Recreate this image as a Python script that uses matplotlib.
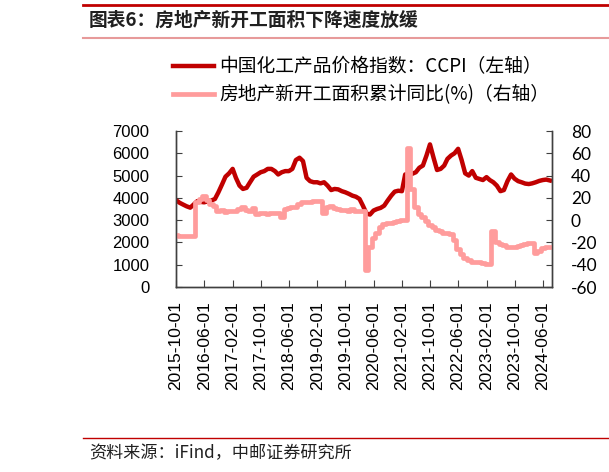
import numpy as np
import pandas as pd
import matplotlib
matplotlib.use("Agg")
import matplotlib.pyplot as plt
import matplotlib.dates as mdates
from matplotlib.lines import Line2D

CJK = ["Noto Sans CJK SC", "DejaVu Sans"]
DARK = "#c00000"
PINK = "#ff9c9c"
INK = "#404040"

# CCPI (left axis), monthly readings
ccpi_start = "2015-10-01"
ccpi = [3900, 3780, 3700, 3620, 3560, 3700, 3850, 3820, 3800, 3850,
        3880, 3950, 4250, 4600, 4950, 5100, 5300, 4900, 4550, 4400,
        4450, 4700, 4950, 5050, 5150, 5200, 5300, 5300, 5200, 5050,
        5150, 5200, 5200, 5300, 5700, 5800, 5650, 4900, 4750, 4700,
        4700, 4650, 4700, 4550, 4350, 4400, 4380, 4300, 4250, 4180,
        4100, 4050, 3950, 3650, 3300, 3250, 3430, 3500, 3550, 3650,
        3880, 4100, 4280, 4320, 4300, 5050, 5080, 5080, 5150, 5350,
        5450, 5900, 6400, 5800, 5250, 5300, 5450, 5750, 5900, 6000,
        6200, 5700, 5100, 5000, 5200, 4900, 4850, 4800, 4930, 4800,
        4700, 4550, 4300, 4350, 4750, 5050, 4860, 4750, 4700, 4640,
        4620, 4650, 4700, 4760, 4800, 4820, 4780]

# new-start area cumulative yoy (%), right axis; value changes on release dates
yoy_dates = ["2015-10-01", "2015-10-19", "2015-11-12", "2015-12-12", "2016-01-19",
             "2016-03-12", "2016-04-15", "2016-05-14", "2016-06-13", "2016-07-15",
             "2016-08-12", "2016-09-13", "2016-10-19", "2016-11-14", "2016-12-13",
             "2017-01-20", "2017-03-14", "2017-04-17", "2017-05-15", "2017-06-14",
             "2017-07-17", "2017-08-14", "2017-09-14", "2017-10-19", "2017-11-14",
             "2017-12-14", "2018-01-18", "2018-03-14", "2018-04-17", "2018-05-15",
             "2018-06-14", "2018-07-16", "2018-08-14", "2018-09-14", "2018-10-19",
             "2018-11-14", "2018-12-14", "2019-01-21", "2019-03-14", "2019-04-17",
             "2019-05-15", "2019-06-14", "2019-07-15", "2019-08-14", "2019-09-16",
             "2019-10-18", "2019-11-14", "2019-12-16", "2020-01-17", "2020-03-16",
             "2020-04-17", "2020-05-15", "2020-06-15", "2020-07-16", "2020-08-14",
             "2020-09-15", "2020-10-19", "2020-11-16", "2020-12-15", "2021-01-18",
             "2021-03-15", "2021-04-16", "2021-05-17", "2021-06-16", "2021-07-15",
             "2021-08-16", "2021-09-15", "2021-10-18", "2021-11-15", "2021-12-15",
             "2022-01-17", "2022-03-15", "2022-04-18", "2022-05-16", "2022-06-15",
             "2022-07-15", "2022-08-15", "2022-09-16", "2022-10-24", "2022-11-15",
             "2022-12-15", "2023-01-17", "2023-03-15", "2023-04-18", "2023-05-16",
             "2023-06-15", "2023-07-17", "2023-08-15", "2023-09-15", "2023-10-18",
             "2023-11-15", "2023-12-15", "2024-01-17", "2024-03-18", "2024-04-16",
             "2024-05-17", "2024-06-17", "2024-07-15", "2024-08-15"]
yoy = [-13.0, -13.9, -14.0, -14.5, -14.0,
       16.0, 19.2, 21.4, 18.1, 14.9,
       12.3, 8.5, 8.7, 7.6, 8.1,
       8.1, 10.4, 11.6, 9.4, 8.1,
       10.6, 5.5, 6.3, 6.6, 5.6,
       6.1, 6.5, 2.9, 9.7, 10.9,
       11.8, 11.8, 14.4, 15.9, 16.4,
       16.3, 16.8, 17.2, 6.0, 11.9,
       13.1, 10.5, 10.1, 9.5, 8.9,
       8.6, 10.0, 8.6, 8.5, -44.9,
       -24.0, -16.0, -11.5, -6.5, -3.5,
       -2.8, -2.2, -1.5, -1.0, 0.0,
       64.3, 28.2, 11.5, 5.5, 3.0,
       -1.2, -4.0, -6.0, -8.5, -10.0,
       -11.8, -12.5, -17.5, -26.3, -30.6,
       -34.4, -36.1, -37.2, -38.0, -37.8,
       -38.9, -39.6, -9.4, -19.2, -21.2,
       -22.6, -23.8, -24.3, -24.0, -23.4,
       -22.5, -21.2, -20.6, -29.7, -27.8,
       -24.6, -24.2, -23.7, -23.7]

tick_dates = ["2015-10-01", "2016-06-01", "2017-02-01", "2017-10-01", "2018-06-01",
              "2019-02-01", "2019-10-01", "2020-06-01", "2021-02-01", "2021-10-01",
              "2022-06-01", "2023-02-01", "2023-10-01", "2024-06-01"]

title = "图表6：房地产新开工面积下降速度放缓"
source = "资料来源：iFind，中邮证券研究所"
lab1 = "中国化工产品价格指数：CCPI（左轴）"
lab2 = "房地产新开工面积累计同比(%)（右轴）"

ccpi_x = pd.date_range(ccpi_start, periods=len(ccpi), freq="MS")
yoy_x = pd.to_datetime(yoy_dates)
ticks = pd.to_datetime(tick_dates)

fig = plt.figure(figsize=(6.09, 4.72), dpi=100)
W, H = 609.0, 472.0
ax = fig.add_axes([176 / W, 1 - 287 / H, (551.5 - 176) / W, (287 - 131) / H])
ax2 = ax.twinx()

ax.plot(ccpi_x, ccpi, color=DARK, lw=3.2, solid_joinstyle="round")
ax2.plot(yoy_x, yoy, color=PINK, lw=3.4, drawstyle="steps-post")

ax.set_xlim(pd.Timestamp("2015-10-01"), pd.Timestamp("2024-08-15"))
ax.set_ylim(0, 7000)
ax.set_yticks(np.arange(0, 7001, 1000))
ax2.set_ylim(-60, 80)
ax2.set_yticks(np.arange(-60, 81, 20))
ax2.set_yticklabels([f"{v:d}" for v in range(-60, 81, 20)])

ax.set_xticks(ticks)
ax.xaxis.set_major_formatter(mdates.DateFormatter("%Y-%m-%d"))
for lab in ax.get_xticklabels():
    lab.set_rotation(90)
    lab.set_fontfamily("Liberation Sans")
    lab.set_fontsize(12.5)
ax.tick_params(axis="x", direction="in", length=5, color=INK, pad=10)
ax.tick_params(axis="y", direction="in", length=4, color=INK, pad=19,
               labelsize=12)
for lab in ax.get_yticklabels():
    lab.set_fontfamily("Liberation Sans")
ax2.tick_params(axis="y", direction="in", length=4, color=INK, pad=14,
                labelsize=12.5)
for lab in ax2.get_yticklabels():
    lab.set_fontfamily("Lato")

for a in (ax, ax2):
    a.spines["top"].set_visible(False)
    for s in ("left", "right", "bottom"):
        a.spines[s].set_color(INK)
        a.spines[s].set_linewidth(1.0)

handles = [Line2D([], [], color=DARK, lw=3.2), Line2D([], [], color=PINK, lw=3.4)]
fig.legend(handles, [lab1, lab2], loc="upper left",
           bbox_to_anchor=(165 / W, 1 - 49 / H), frameon=False,
           prop={"family": CJK, "size": 13.5}, handlelength=2.2,
           handletextpad=0.3, labelspacing=0.38, borderaxespad=0)

# header / footer
fig.add_artist(Line2D([83 / W, 1], [1 - 5 / H] * 2, color=DARK, lw=2.0))
fig.add_artist(Line2D([83 / W, 1], [1 - 38 / H] * 2, color="#e79a9a", lw=1.5))
fig.text(89 / W, 1 - 20 / H, title, family=CJK, fontsize=13.5, fontweight="bold",
         ha="left", va="center", color="#202020")
fig.add_artist(Line2D([83 / W, 1], [1 - 438 / H] * 2, color=DARK, lw=1.0))
fig.text(89 / W, 1 - 453 / H, source, family=CJK, fontsize=12.3,
         ha="left", va="center", color="#202020")

fig.savefig("out.png", dpi=100, facecolor="white")
